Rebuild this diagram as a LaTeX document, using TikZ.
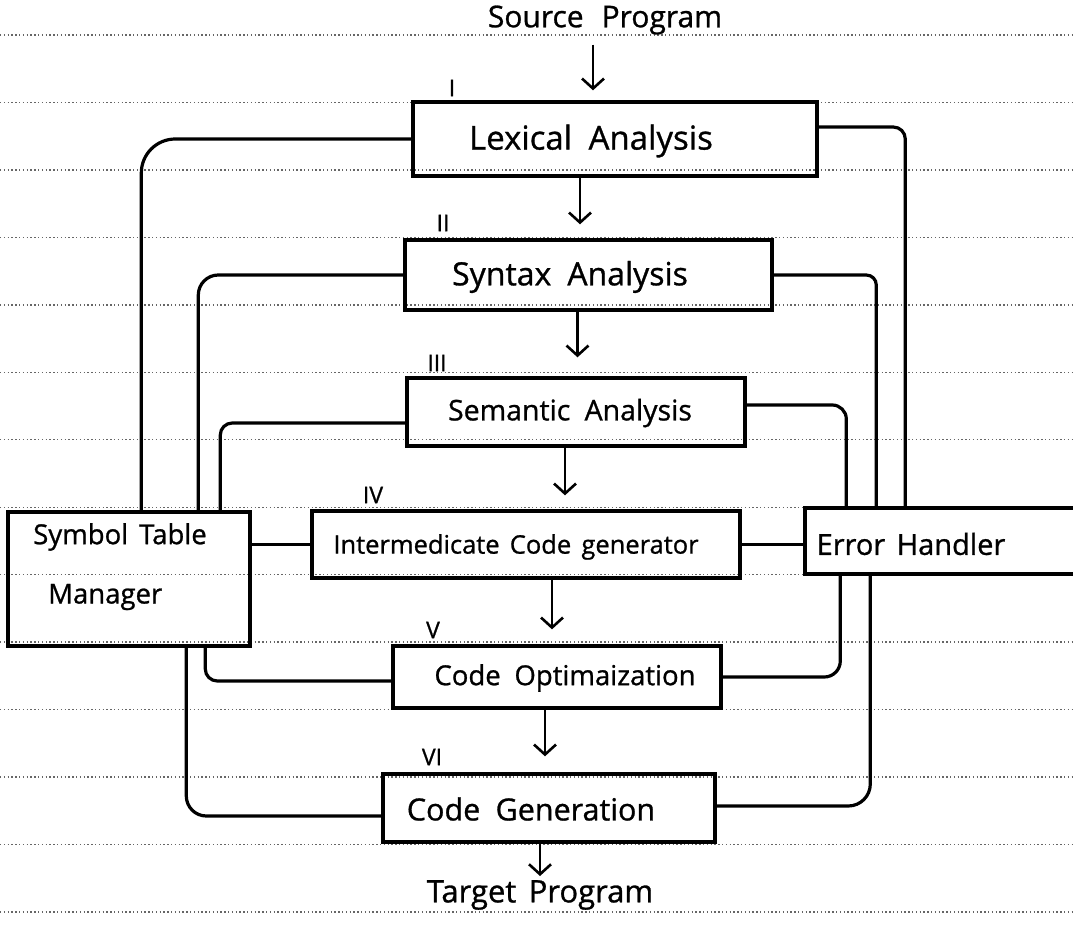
\documentclass[tikz,border=0pt]{standalone}
\usepackage{fontspec}
\setmainfont{Open Sans}
\usetikzlibrary{arrows.meta,calc}
\begin{document}
\begin{tikzpicture}[x=1pt,y=-1pt,
  stagebox/.style 2 args={draw,line width=3.4pt,minimum width=#1,minimum height=#2,inner sep=0pt},
  lbl/.style={font=\fontsize{#1}{#1}\selectfont\addfontfeature{FakeBold=0.9},inner sep=0pt},
  lbl/.default=28,
  num/.style={font=\fontsize{23}{26}\selectfont\addfontfeature{FakeBold=0.9},inner sep=0pt},
  ruled/.style={black!60,line width=1.4pt,dash pattern=on 1.4pt off 2.4pt},
  link/.style={line width=3.2pt,rounded corners=20pt},
  flow/.style={line width=2.6pt,-{Straight Barb[length=10pt,width=22pt]}}]
\useasboundingbox (0,0) rectangle (1073,925);
\clip (0,0) rectangle (1073,925);
\fill[white] (0,0) rectangle (1073,925);

% ruled lines of the notebook page
\foreach \k in {0,...,13}
  \draw[ruled] (0,{35+67.46*\k}) -- (1073,{35+67.46*\k});

% compiler phases
\node[stagebox={404}{74}] (lex) at (615,139) {};
\node[stagebox={367}{70}] (syn) at (588.5,275) {};
\node[stagebox={338}{68}] (sem) at (576,412) {};
\node[stagebox={428}{67}] (imc) at (526,544.5) {};
\node[stagebox={328}{62}] (opt) at (557,677) {};
\node[stagebox={332}{68}] (gen) at (549,808) {};
\node[stagebox={242}{134}] (sym) at (129,579) {};
\node[stagebox={295}{66}] (err) at (952.5,541) {};

% box texts
\node[lbl=33] (lexT) at (591,141) {Lexical\hspace{0.5em}Analysis};
\node[lbl=32] (synT) at (570,277) {Syntax\hspace{0.5em}Analysis};
\node[lbl=28.5] (semT) at (570,413) {Semantic\hspace{0.5em}Analysis};
\node[lbl=25.5] (imcT) at (516,547) {Intermedicate\hspace{0.4em}Code\hspace{0.4em}generator};
\node[lbl=27.5] (optT) at (565,678) {Code\hspace{0.5em}Optimaization};
\node[lbl=30.5] (genT) at (531,809) {Code\hspace{0.5em}Generation};
\node[lbl=27.5] (symT) at (120,537) {Symbol\hspace{0.4em}Table};
\node[lbl=27.5,anchor=west] (symM) at (48,597) {Manager};
\node[lbl=29] (errT) at (911,544) {Error\hspace{0.4em}Handler};

% input and output
\node[lbl=30] (src) at (605,20) {Source\hspace{0.6em}Program};
\node[lbl=31] (tgt) at (540,895) {Target\hspace{0.4em}Program};

% phase numbers
\node[num] (n1) at (452,88) {I};
\node[num] (n2) at (443,223) {II};
\node[num] (n3) at (437,363) {III};
\node[num] (n4) at (373,495) {IV};
\node[num] (n5) at (433,630) {V};
\node[num] (n6) at (432,757) {VI};

% main flow
\draw[flow,shorten >=10pt] ([xshift=-12pt,yshift=-10pt]src.south) -- ([xshift=-12pt]src.south |- lex.north);
\draw[flow,shorten >=14pt] ([xshift=-35pt]lex.south) -- ([xshift=-35pt]lex.south |- syn.north);
\draw[flow,shorten >=19pt] ([xshift=-11pt]syn.south) -- ([xshift=-11pt]syn.south |- sem.north);
\draw[flow,shorten >=14pt] ([xshift=-11pt]sem.south) -- ([xshift=-11pt]sem.south |- imc.north);
\draw[flow,shorten >=15pt] ([xshift=26pt]imc.south) -- ([xshift=26pt]imc.south |- opt.north);
\draw[flow,shorten >=16pt] ([xshift=-12pt]opt.south) -- ([xshift=-12pt]opt.south |- gen.north);
\draw[flow,shorten >=4pt] ([xshift=-9pt]gen.south) -- ([xshift=-9pt]gen.south |- tgt.north);

% links to the symbol table manager
\draw[link,rounded corners=34pt] (lex.west) -| ([xshift=135pt]sym.north west);
\draw[link] (syn.west) -| ([xshift=192pt]sym.north west);
\draw[link,rounded corners=12pt] ([yshift=-11pt]sem.west) -| ([xshift=214pt]sym.north west);
\draw[link] (imc.west) -- (imc.west -| sym.east);
\draw[link,rounded corners=12pt] ([xshift=199pt]sym.south west) |- ([yshift=-4pt]opt.west);
\draw[link] ([xshift=180pt]sym.south west) |- ([yshift=-8pt]gen.west);

% links to the error handler
\draw[link,rounded corners=12pt] ([yshift=12pt]lex.east) -| ([xshift=102pt]err.north west);
\draw[link,rounded corners=10pt] (syn.east) -| ([xshift=73pt]err.north west);
\draw[link,rounded corners=14pt] ([yshift=7pt]sem.east) -| ([xshift=43pt]err.north west);
\draw[link] (imc.east) -- (imc.east -| err.west);
\draw[link,rounded corners=16pt] ([xshift=37pt]err.south west) |- (opt.east);
\draw[link,rounded corners=22pt] ([xshift=67pt]err.south west) |- ([yshift=2pt]gen.east);
\end{tikzpicture}
\end{document}
